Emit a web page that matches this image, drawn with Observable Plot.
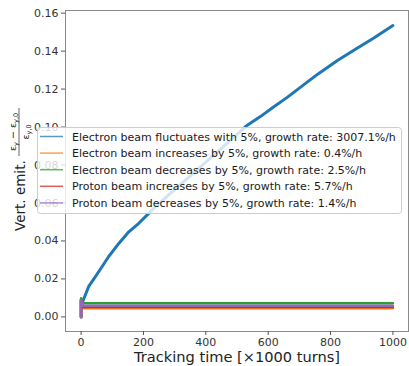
<!DOCTYPE html>
<html>
<head>
<meta charset="utf-8">
<script src="https://cdn.jsdelivr.net/npm/d3@7"></script>
<script src="https://cdn.jsdelivr.net/npm/@observablehq/plot@0.6"></script>
<style>
  html, body { margin: 0; padding: 0; background: #fff; }
  #chart { width: 409px; height: 366px; }
</style>
</head>
<body>
<div id="chart"></div>
<script>
// ---- data ----
const seriesNames = [
  "Electron beam fluctuates with 5%, growth rate: 3007.1%/h",
  "Electron beam increases by 5%, growth rate: 0.4%/h",
  "Electron beam decreases by 5%, growth rate: 2.5%/h",
  "Proton beam increases by 5%, growth rate: 5.7%/h",
  "Proton beam decreases by 5%, growth rate: 1.4%/h"
];
const seriesColors = ["#1f77b4", "#ff7f0e", "#2ca02c", "#d62728", "#9467bd"];

// blue: electron beam fluctuating
const blueTurns = [0, 0, 5, 24, 46, 67, 88, 121, 153, 185, 217, 238, 300, 383, 450, 533, 575, 616, 660, 703, 760, 822, 880, 940, 1000];
const blueVals  = [0, 0.0090, 0.0080, 0.0159, 0.0212, 0.0264, 0.0317, 0.0387, 0.0448, 0.0493, 0.0545, 0.0580, 0.0670, 0.0790, 0.0888, 0.1010, 0.1055, 0.1104, 0.1155, 0.1209, 0.1280, 0.1351, 0.1410, 0.1470, 0.1535];

// flat series: turns and values
const flatTurns = [0, 0, 5, 1000];
const orangeVals = [0, 0.0085, 0.0046, 0.0046];
const greenVals  = [0, 0.0098, 0.0072, 0.0072];
const redVals    = [0, 0.0088, 0.0052, 0.0052];
const purpleVals = [0, 0.0089, 0.0059, 0.0059];

const xTicks = [0, 200, 400, 600, 800, 1000];
const yTicks = [0, 0.02, 0.04, 0.06, 0.08, 0.10, 0.12, 0.14, 0.16];

const xLabel = "Tracking time [×1000 turns]";

// ---- build rows ----
const mk = (turns, vals) => turns.map((t, i) => ({t, v: vals[i]}));
const series = [
  {data: mk(blueTurns, blueVals), color: seriesColors[0], w: 3},
  {data: mk(flatTurns, orangeVals), color: seriesColors[1], w: 2.5},
  {data: mk(flatTurns, greenVals), color: seriesColors[2], w: 2.5},
  {data: mk(flatTurns, redVals), color: seriesColors[3], w: 2.5},
  {data: mk(flatTurns, purpleVals), color: seriesColors[4], w: 2.5}
];

const font = "DejaVu Sans";
const plot = Plot.plot({
  width: 409,
  height: 366,
  marginLeft: 65,
  marginRight: 1,
  marginTop: 10,
  marginBottom: 35,
  style: {fontFamily: font, fontSize: "11px", color: "#333", background: "#fff"},
  x: {domain: [-50, 1050], label: null},
  y: {domain: [-0.0077, 0.1614], label: null},
  marks: [
    ...series.map(s => Plot.line(s.data, {x: "t", y: "v", stroke: s.color, strokeWidth: s.w, strokeLinejoin: "round"})),
    Plot.frame({stroke: "#8a8a8a", strokeWidth: 1}),
    Plot.axisX({ticks: xTicks, tickFormat: d => String(d), tickSize: 4, tickPadding: 3, stroke: "#555", fontSize: 11, label: null}),
    Plot.axisY({ticks: yTicks, tickFormat: d => d.toFixed(2), tickSize: 4, tickPadding: 3, stroke: "#555", fontSize: 11, label: null})
  ]
});
document.getElementById("chart").appendChild(plot);

// ---- annotations: axis labels and legend ----
const svg = d3.select(plot);
svg.append("text")
  .attr("x", 237).attr("y", 362)
  .attr("text-anchor", "middle")
  .attr("font-family", font).attr("font-size", 14.6).attr("fill", "#222")
  .text(xLabel);

// y label (rotated)
const yl = svg.append("g").attr("transform", "translate(19,167) rotate(-90)")
  .attr("font-family", font).attr("fill", "#222");
yl.append("text").attr("x", -64).attr("y", 5.5).attr("text-anchor", "start").attr("font-size", 13.5).text("Vert. emit.");
// fraction
const fx = 35;
const num = yl.append("text").attr("x", fx).attr("y", -3).attr("text-anchor", "middle").attr("font-size", 9.5);
num.append("tspan").text("ε");
num.append("tspan").attr("font-size", 6.5).attr("dy", 2).text("y");
num.append("tspan").attr("dy", -2).text(" − ε");
num.append("tspan").attr("font-size", 6.5).attr("dy", 2).text("y,0");
yl.append("line").attr("x1", fx - 24).attr("x2", fx + 24).attr("y1", 0).attr("y2", 0).attr("stroke", "#222").attr("stroke-width", 0.7);
const den = yl.append("text").attr("x", fx).attr("y", 9.5).attr("text-anchor", "middle").attr("font-size", 9.5);
den.append("tspan").text("ε");
den.append("tspan").attr("font-size", 6.5).attr("dy", 2).text("y,0");

// legend
const lg = svg.append("g");
lg.append("rect").attr("x", 37.5).attr("y", 127.5).attr("width", 364).attr("height", 86)
  .attr("rx", 3).attr("fill", "#fff").attr("fill-opacity", 0.8).attr("stroke", "#cccccc").attr("stroke-width", 1);
seriesNames.forEach((name, i) => {
  const y = 136.5 + i * 16.6;
  lg.append("line").attr("x1", 40).attr("x2", 63).attr("y1", y).attr("y2", y)
    .attr("stroke", seriesColors[i]).attr("stroke-width", 1.5).attr("stroke-opacity", 0.75);
  lg.append("text").attr("x", 72).attr("y", y + 4).attr("text-anchor", "start")
    .attr("font-family", font).attr("font-size", 11).attr("fill", "#1a1a1a").text(name);
});
</script>
</body>
</html>
